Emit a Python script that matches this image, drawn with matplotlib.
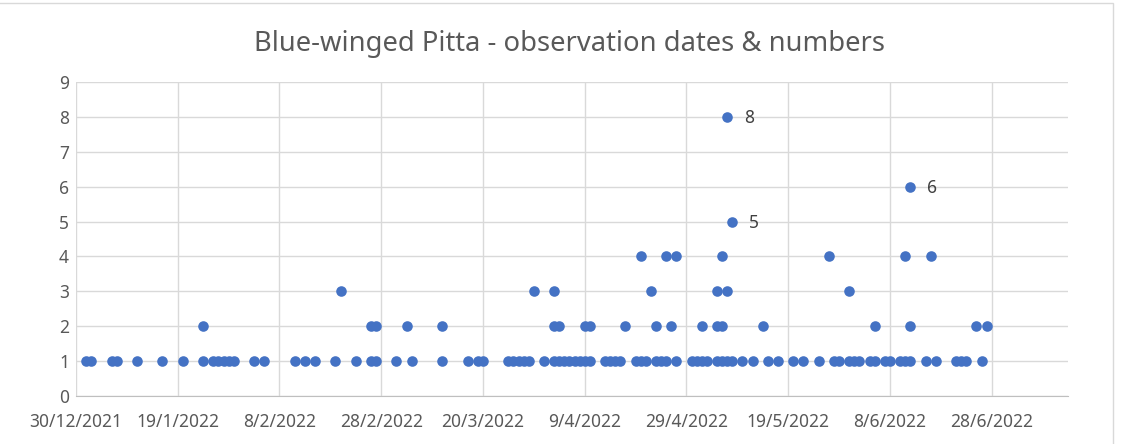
import matplotlib
matplotlib.use("Agg")
import matplotlib.pyplot as plt
from matplotlib.patches import Rectangle
import datetime as dt

# observation dates grouped by the number of birds seen
seen_1 = ["2022-01-01", "2022-01-02", "2022-01-06", "2022-01-07", "2022-01-11", "2022-01-16",
          "2022-01-20", "2022-01-24", "2022-01-26", "2022-01-27", "2022-01-28", "2022-01-29",
          "2022-01-30", "2022-02-03", "2022-02-05", "2022-02-11", "2022-02-13", "2022-02-15",
          "2022-02-19", "2022-02-23", "2022-02-26", "2022-02-27", "2022-03-03", "2022-03-06",
          "2022-03-12", "2022-03-17", "2022-03-19", "2022-03-20", "2022-03-25", "2022-03-26",
          "2022-03-27", "2022-03-28", "2022-03-29", "2022-04-01", "2022-04-03", "2022-04-04",
          "2022-04-05", "2022-04-06", "2022-04-07", "2022-04-08", "2022-04-09", "2022-04-10",
          "2022-04-13", "2022-04-14", "2022-04-15", "2022-04-16", "2022-04-19", "2022-04-20",
          "2022-04-21", "2022-04-23", "2022-04-24", "2022-04-25", "2022-04-27", "2022-04-30",
          "2022-05-01", "2022-05-02", "2022-05-03", "2022-05-05", "2022-05-06", "2022-05-07",
          "2022-05-08", "2022-05-10", "2022-05-12", "2022-05-15", "2022-05-17", "2022-05-20",
          "2022-05-22", "2022-05-25", "2022-05-28", "2022-05-29", "2022-05-31", "2022-06-01",
          "2022-06-02", "2022-06-04", "2022-06-05", "2022-06-07", "2022-06-08", "2022-06-10",
          "2022-06-11", "2022-06-12", "2022-06-15", "2022-06-17", "2022-06-21", "2022-06-22",
          "2022-06-23", "2022-06-26"]
seen_2 = ["2022-01-24", "2022-02-26", "2022-02-27", "2022-03-05", "2022-03-12", "2022-04-03",
          "2022-04-04", "2022-04-09", "2022-04-10", "2022-04-17", "2022-04-23", "2022-04-26",
          "2022-05-02", "2022-05-05", "2022-05-06", "2022-05-14", "2022-06-05", "2022-06-12",
          "2022-06-25", "2022-06-27"]
seen_3 = ["2022-02-20", "2022-03-30", "2022-04-03", "2022-04-22", "2022-05-05", "2022-05-07",
          "2022-05-31"]
seen_4 = ["2022-04-20", "2022-04-25", "2022-04-27", "2022-05-06", "2022-05-27", "2022-06-11",
          "2022-06-16"]
seen_5 = ["2022-05-08"]
seen_6 = ["2022-06-12"]
seen_8 = ["2022-05-07"]

groups = {1: seen_1, 2: seen_2, 3: seen_3, 4: seen_4, 5: seen_5, 6: seen_6, 8: seen_8}
labelled = [5, 6, 8]

tick_dates = ["2021-12-30", "2022-01-19", "2022-02-08", "2022-02-28", "2022-03-20",
              "2022-04-09", "2022-04-29", "2022-05-19", "2022-06-08", "2022-06-28"]

def to_date(s):
    return dt.datetime.strptime(s, "%Y-%m-%d")

xs, ys = [], []
for n, ds in groups.items():
    for d in ds:
        xs.append(to_date(d))
        ys.append(n)

plt.rcParams["font.family"] = ["Noto Sans", "DejaVu Sans"]
grey = "#595959"

fig = plt.figure(figsize=(11.28, 4.44), dpi=100)
ax = fig.add_axes([76 / 1128, 1 - 396 / 444, (1068 - 76) / 1128, (396 - 82) / 444])

ax.scatter(xs, ys, s=58, color="#4472C4", zorder=3, linewidths=0)

for n in labelled:
    for d in groups[n]:
        ax.annotate(str(n), (to_date(d), n), xytext=(12, -1), textcoords="offset points",
                    ha="left", va="center", fontsize=12.5, color="#404040")

ax.set_ylim(0, 9)
ax.set_yticks(range(0, 10))
ax.set_xlim(to_date("2021-12-30"), to_date("2021-12-30") + dt.timedelta(days=195))
ticks = [to_date(t) for t in tick_dates]
ax.set_xticks(ticks)
ax.set_xticklabels([f"{t.day}/{t.month}/{t.year}" for t in ticks])

ax.grid(True, color="#D9D9D9", linewidth=1)
ax.set_axisbelow(True)
for side in ["top", "right", "left"]:
    ax.spines[side].set_visible(False)
ax.spines["bottom"].set_color("#BFBFBF")
ax.tick_params(length=0, labelsize=12.5, labelcolor=grey)
ax.tick_params(axis="x", pad=12)
ax.tick_params(axis="y", pad=5)

fig.text(0.505, 0.9, "Blue-winged Pitta - observation dates & numbers", ha="center",
         va="center", fontsize=19.7, color=grey)

# light frame round the chart area
fig.patches.append(Rectangle((-0.01, -0.05), 1113 / 1128 + 0.01, 1 - 3 / 444 + 0.05,
                             transform=fig.transFigure, fill=False, edgecolor="#D9D9D9",
                             linewidth=1))

fig.savefig("out.png", dpi=100)
